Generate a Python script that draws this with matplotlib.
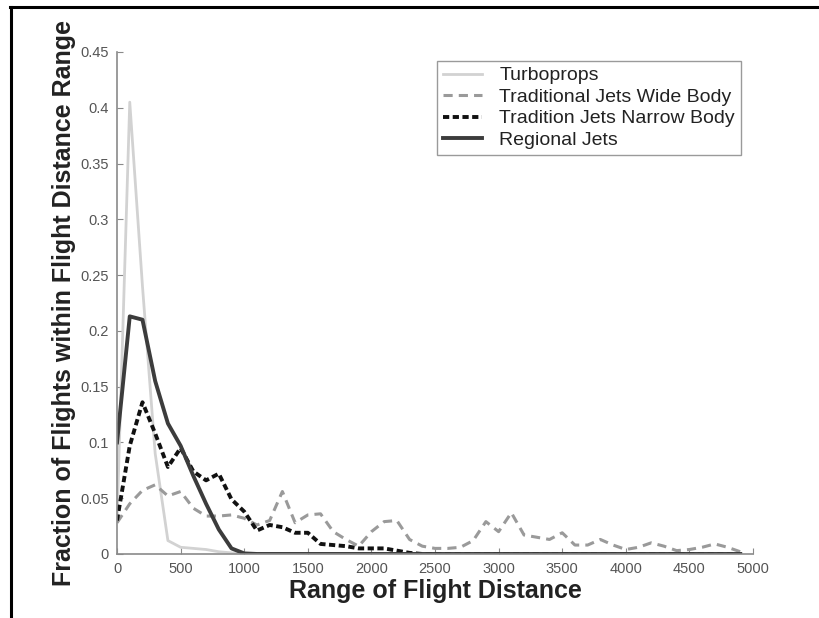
import matplotlib
matplotlib.use("Agg")
import matplotlib.pyplot as plt
from matplotlib.lines import Line2D
import numpy as np

# flight distance bins (miles), 100-mile steps
distance = np.arange(0, 5000, 100)

turboprops = [0.03, 0.405, 0.24, 0.09, 0.012, 0.006, 0.005, 0.004, 0.002, 0.001] + [0.0] * 40
regional_jets = [0.10, 0.213, 0.21, 0.155, 0.117, 0.097, 0.070, 0.045, 0.022, 0.005,
                 0.0005] + [0.0] * 39
narrow_body = [0.030, 0.097, 0.136, 0.108, 0.078, 0.095, 0.074, 0.066, 0.072, 0.049,
               0.038, 0.021, 0.026, 0.024, 0.019, 0.019, 0.009, 0.008, 0.007, 0.005,
               0.005, 0.005, 0.003, 0.001] + [0.0] * 26
wide_body = [0.028, 0.045, 0.057, 0.062, 0.052, 0.056, 0.041, 0.034, 0.034, 0.035,
             0.032, 0.026, 0.030, 0.056, 0.028, 0.035, 0.036, 0.020, 0.013, 0.007,
             0.020, 0.029, 0.030, 0.013, 0.007, 0.005, 0.005, 0.006, 0.012, 0.029,
             0.020, 0.037, 0.017, 0.015, 0.013, 0.019, 0.008, 0.008, 0.013, 0.008,
             0.004, 0.006, 0.010, 0.007, 0.003, 0.004, 0.006, 0.009, 0.006, 0.002]

yticks = [0, 0.05, 0.1, 0.15, 0.2, 0.25, 0.3, 0.35, 0.4, 0.45]
ytick_labels = ["0", "0.05", "0.1", "0.15", "0.2", "0.25", "0.3", "0.35", "0.4", "0.45"]
xticks = list(range(0, 5001, 500))

plt.rcParams["font.family"] = ["Liberation Sans", "DejaVu Sans"]

fig = plt.figure(figsize=(8.19, 6.18), dpi=100)
ax = fig.add_axes([0.1429, 0.1036, 0.7765, 0.8123])

ax.plot(distance, turboprops, color="#d2d2d2", lw=2.0, label="Turboprops")
ax.plot(distance, wide_body, color="#9a9a9a", lw=2.2, dashes=(3, 2),
        label="Traditional Jets Wide Body")
ax.plot(distance, narrow_body, color="#111111", lw=2.8, dashes=(1.6, 0.9),
        label="Tradition Jets Narrow Body")
ax.plot(distance, regional_jets, color="#3c3c3c", lw=2.8, label="Regional Jets")

ax.set_xlim(0, 5000)
ax.set_ylim(0, 0.45)
ax.set_xticks(xticks)
ax.set_yticks(yticks)
ax.set_yticklabels(ytick_labels)

for side in ("top", "right"):
    ax.spines[side].set_visible(False)
for side in ("left", "bottom"):
    ax.spines[side].set_color("#8a8a8a")
    ax.spines[side].set_linewidth(1.2)
ax.tick_params(direction="in", length=4, width=0.8, color="#8a8a8a",
               labelsize=10.5, labelcolor="#555555", pad=6)

ax.set_xlabel("Range of Flight Distance", fontsize=18, fontweight="bold",
              color="#222222", labelpad=2)
ax.set_ylabel("Fraction of Flights within Flight Distance Range", fontsize=18,
              fontweight="bold", color="#222222", labelpad=3)

leg = ax.legend(loc="upper left", bbox_to_anchor=(0.503, 0.982), fontsize=14,
                frameon=True, fancybox=False, framealpha=1, edgecolor="#9a9a9a",
                handlelength=2.0, handletextpad=0.9, labelspacing=0.2,
                borderpad=0.3, borderaxespad=0)
leg.get_frame().set_linewidth(1.0)
for txt in leg.get_texts():
    txt.set_color("#222222")

# frame edges along the top and left of the page
fig.add_artist(Line2D([0.012, 1.0], [0.989, 0.989], transform=fig.transFigure,
                      color="black", lw=2.2))
fig.add_artist(Line2D([0.013, 0.013], [0.0, 0.989], transform=fig.transFigure,
                      color="black", lw=2.2))

fig.savefig("out.png", dpi=100)
